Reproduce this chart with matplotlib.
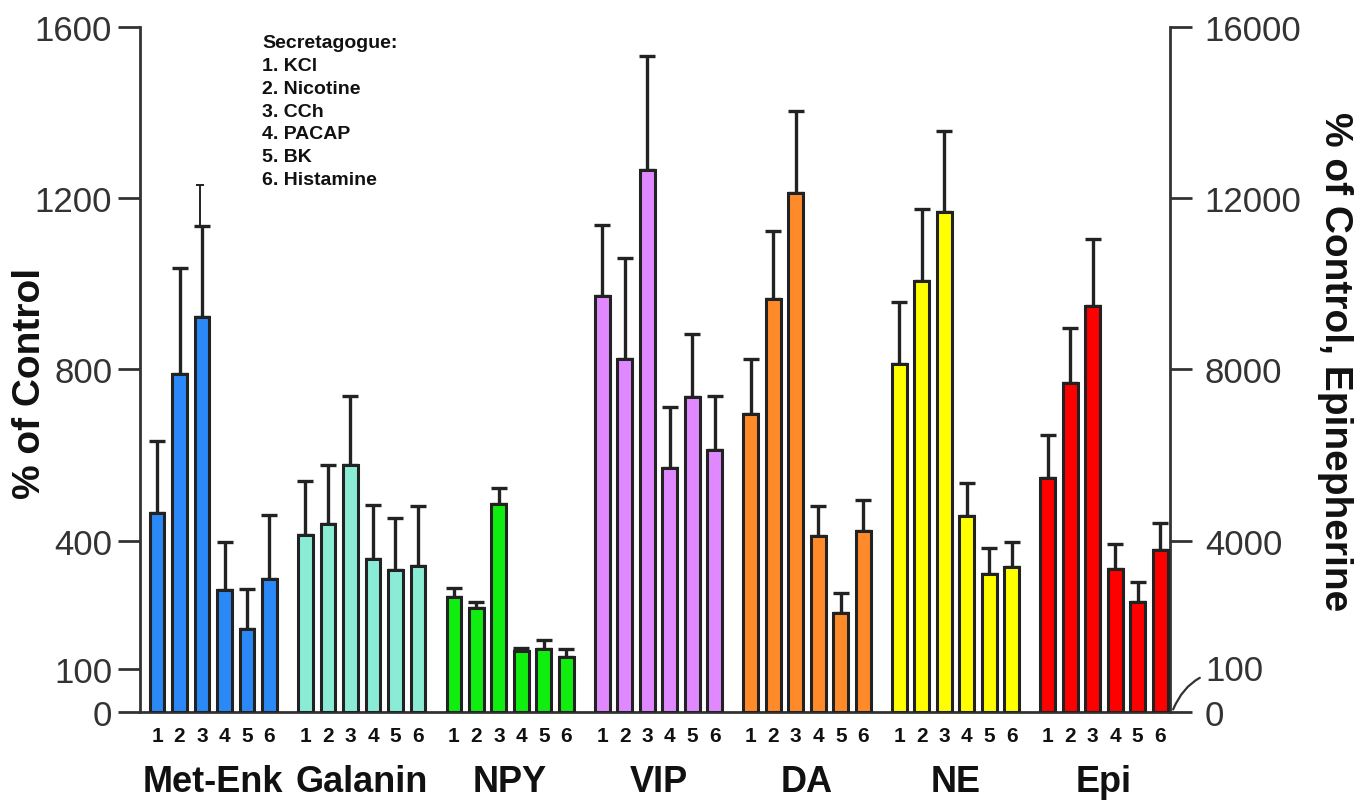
import matplotlib
matplotlib.use('Agg')
import matplotlib.pyplot as plt
import numpy as np
from matplotlib.transforms import blended_transform_factory

plt.rcParams['font.family'] = ['Liberation Sans', 'DejaVu Sans']

groups = ['Met-Enk', 'Galanin', 'NPY', 'VIP', 'DA', 'NE', 'Epi']
colors = ['#2A88F7', '#8AECD4', '#10EE10', '#E088FF', '#FF8A2A', '#FFFF00', '#FF0000']
bar_labels = ['1', '2', '3', '4', '5', '6']
secretagogues = ['KCl', 'Nicotine', 'CCh', 'PACAP', 'BK', 'Histamine']

# % of control (left axis), mean and SEM
met_enk = [465, 789, 922, 284, 195, 311]
met_enk_sem = [169, 249, 212, 113, 92, 148]
met_enk_extra_top = 1232  # second, thin bar on CCh
galanin = [413, 440, 576, 357, 332, 340]
galanin_sem = [127, 136, 161, 127, 122, 140]
npy = [268, 242, 486, 142, 147, 128]
npy_sem = [22, 16, 37, 8, 20, 18]
vip = [972, 824, 1266, 569, 735, 612]
vip_sem = [165, 237, 267, 144, 149, 125]
da = [695, 964, 1212, 411, 231, 423]
da_sem = [129, 159, 191, 71, 46, 71]
ne = [812, 1007, 1168, 457, 323, 338]
ne_sem = [145, 169, 188, 78, 59, 58]
# epinephrine on right axis
epi = [5460, 7690, 9490, 3340, 2580, 3790]
epi_sem = [1020, 1280, 1560, 580, 450, 620]

left_ticks = [0, 100, 400, 800, 1200, 1600]
right_ticks = [0, 4000, 8000, 12000, 16000]

means = [met_enk, galanin, npy, vip, da, ne, epi]
sems = [met_enk_sem, galanin_sem, npy_sem, vip_sem, da_sem, ne_sem, epi_sem]

stride = 6.6
width = 0.66
edge = '#222222'

fig = plt.figure(figsize=(13.68, 8.04), dpi=100)
ax = fig.add_axes([0.1023, 0.1132, 0.7530, 0.8520])
ax2 = ax.twinx()

ax.set_ylim(0, 1600)
ax2.set_ylim(0, 16000)
ax.set_xlim(-0.76, 45.04)

all_x = []
for g in range(len(groups)):
    x = g * stride + np.arange(6)
    all_x.extend(x)
    a = ax2 if groups[g] == 'Epi' else ax
    a.bar(x, means[g], width=width, color=colors[g], edgecolor=edge, linewidth=2.2, zorder=3)
    a.errorbar(x, means[g], yerr=[np.zeros(6), sems[g]], fmt='none', ecolor=edge,
               elinewidth=2.4, capsize=6, capthick=2.4, zorder=2)

# the extra thin whisker on Met-Enk CCh
ax.errorbar([2 - 0.08], [met_enk[2] + met_enk_sem[2]],
            yerr=[[0], [met_enk_extra_top - met_enk[2] - met_enk_sem[2]]],
            fmt='none', ecolor=edge, elinewidth=1.4, capsize=3, capthick=1.4, zorder=2)

ax.set_xticks(all_x)
ax.set_xticklabels(bar_labels * len(groups), fontsize=15, fontweight='bold')
ax.tick_params(axis='x', length=0, pad=10, colors='#111111')

trans = blended_transform_factory(ax.transData, ax.transAxes)
for g, name in enumerate(groups):
    ax.text(g * stride + 2.5, -0.102, name, transform=trans, ha='center', va='center',
            fontsize=26, fontweight='bold', color='#111111')

for a in (ax, ax2):
    a.spines['top'].set_visible(False)
    for s in ('left', 'right', 'bottom'):
        a.spines[s].set_linewidth(2.0)
        a.spines[s].set_color('#333333')
ax.spines['right'].set_visible(False)
ax2.spines['left'].set_visible(False)
ax2.spines['bottom'].set_visible(False)

ax.set_yticks(left_ticks)
ax.set_yticklabels([str(t) for t in left_ticks])
ax.tick_params(axis='y', length=16, width=2.0, pad=4, labelsize=25, colors='#333333')
ax2.set_yticks(right_ticks)
ax2.set_yticklabels([str(t) for t in right_ticks])
ax2.tick_params(axis='y', length=16, width=2.0, pad=9, labelsize=25, colors='#333333')

ax2.annotate('100', xy=(1.003, 60), xycoords=('axes fraction', 'data'),
             xytext=(1.034, 958), textcoords=('axes fraction', 'data'),
             ha='left', va='center', fontsize=25, color='#333333',
             arrowprops=dict(arrowstyle='-', color='#333333', lw=1.6,
                             connectionstyle='arc3,rad=0.35', shrinkA=2, shrinkB=0))

fig.text(30 / 1368, 1 - 383 / 804, '% of Control', rotation=90, ha='center', va='center',
         fontsize=28, fontweight='bold', color='#111111')
fig.text(1335 / 1368, 1 - 362 / 804, '% of Control, Epinepherine', rotation=270,
         ha='center', va='center', fontsize=28, fontweight='bold', color='#111111')

legend_txt = 'Secretagogue:\n' + '\n'.join(f'{i + 1}. {s}' for i, s in enumerate(secretagogues))
fig.text(262 / 1368, 1 - 35 / 804, legend_txt, ha='left', va='top', fontsize=14,
         fontweight='bold', linespacing=1.45, color='#111111')

fig.savefig('out.png', dpi=100)
